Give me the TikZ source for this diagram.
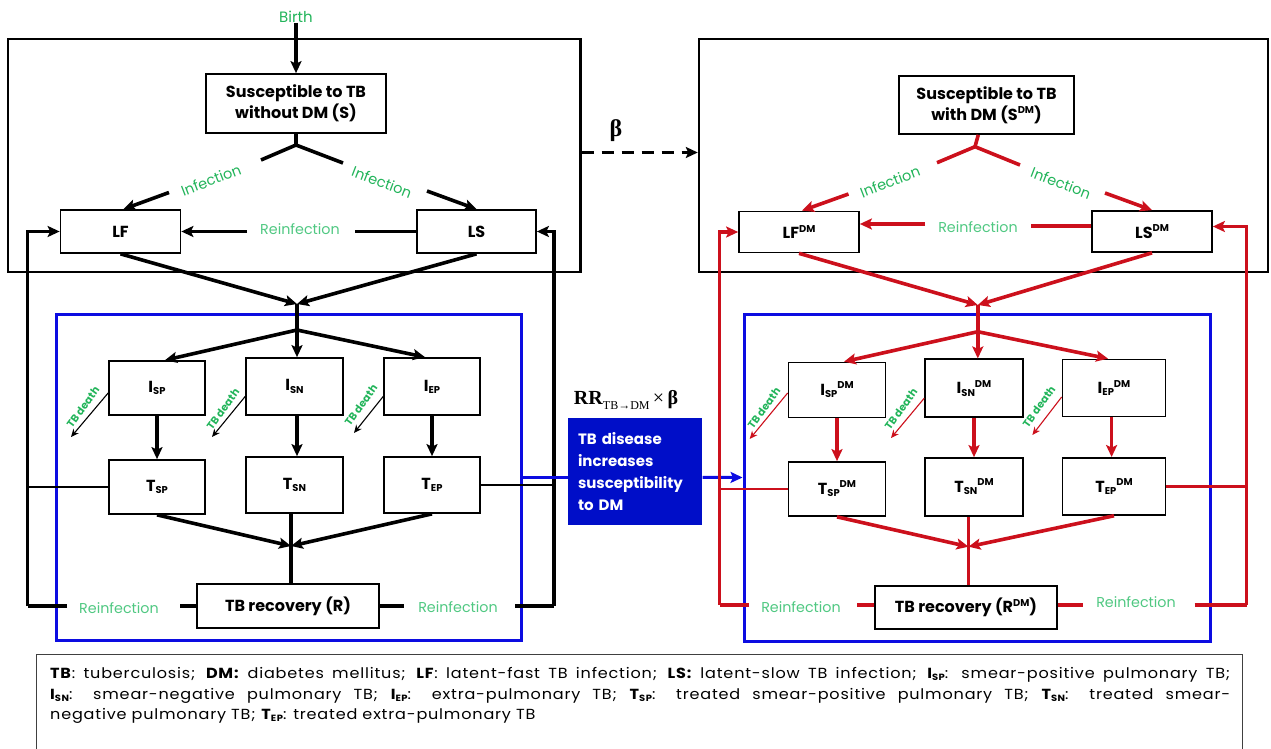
\documentclass[tikz,border=0pt]{standalone}
\usepackage{fontspec}
\setmainfont{Poppins}
\newfontfamily\serifb{Liberation Serif}
\newfontfamily\legfont[LetterSpace=5]{Poppins}
\usetikzlibrary{arrows.meta}
\definecolor{tred}{RGB}{204,16,28}
\definecolor{tblue}{RGB}{12,12,225}
\definecolor{tfill}{RGB}{0,14,200}
\definecolor{tgreen}{RGB}{34,180,90}
\definecolor{tlgreen}{RGB}{80,200,130}
\newcommand{\lsub}[1]{\raisebox{-0.25ex}{\scalebox{0.62}{#1}}}
\newcommand{\lsup}[1]{\raisebox{0.75ex}{\scalebox{0.62}{#1}}}
\newcommand{\legA}{\textbf{TB}: tuberculosis; \textbf{DM:} diabetes mellitus; \textbf{LF}: latent-fast TB infection; \textbf{LS:} latent-slow TB infection; \textbf{I\lsub{SP}}: smear-positive pulmonary TB;}
\newcommand{\legB}{\textbf{I\lsub{SN}}: smear-negative pulmonary TB; \textbf{I\lsub{EP}}: extra-pulmonary TB; \textbf{T\lsub{SP}}: treated smear-positive pulmonary TB; \textbf{T\lsub{SN}}: treated smear-}
\newcommand{\legC}{negative pulmonary TB; \textbf{T\lsub{EP}}: treated extra-pulmonary TB}
\newcommand{\legsize}{\legfont\fontsize{14.6}{20}\selectfont}
\begin{document}
\begin{tikzpicture}[x=1pt,y=-1pt,
 box/.style={draw, line width=1.7pt, inner sep=0pt, align=center, font=\bfseries\fontsize{16}{21}\selectfont},
 wh/.style 2 args={minimum width=#1pt, minimum height=#2pt},
 frame/.style={draw, line width=2.4pt, inner sep=0pt},
 bframe/.style={draw=tblue, line width=3pt, inner sep=0pt},
 flow/.style={line width=3.6pt, -{Stealth[length=12pt,width=11pt,inset=2.5pt]}},
 seg/.style={line width=3.6pt},
 thinarr/.style={line width=1.1pt, -{Stealth[length=8pt,width=7pt]}},
 inf/.style={text=tgreen, font=\fontsize{14.5}{15}\selectfont, inner sep=0pt},
 reinf/.style={text=tlgreen, font=\fontsize{14.3}{15}\selectfont, inner sep=0pt},
 death/.style={text=tgreen, font=\bfseries\fontsize{10.5}{11}\selectfont, rotate=54, inner sep=0pt},
 legline/.style={anchor=base west, inner sep=0pt, font=\legsize},
]
\useasboundingbox (0,0) rectangle (1271,749);

% ---------- frames ----------
\node[frame, wh={572.5}{233}] (topL) at (294.25,155.5) {};
\node[frame, wh={569}{233}] (topR) at (983.5,155.5) {};
\node[bframe, wh={465}{326.5}] (blueL) at (288.5,477.25) {};
\node[bframe, wh={466.5}{327}] (blueR) at (977.25,477.5) {};

% ---------- left nodes ----------
\node[inf, font=\fontsize{15}{15}\selectfont] (birth) at (296,17) {Birth};
\node[box, wh={180}{59}] (S) at (296,103.5) {Susceptible to TB\\without DM (S)};
\node[box, wh={120}{43}] (LF) at (120.5,231.5) {LF};
\node[box, wh={119}{43}] (LS) at (476.5,231.5) {LS};
\node[box, wh={96}{54}] (Isp) at (157,388) {I\lsub{SP}};
\node[box, wh={97}{57}] (Isn) at (294.5,386.5) {I\lsub{SN}};
\node[box, wh={96}{57}] (Iep) at (432,386.5) {I\lsub{EP}};
\node[box, wh={96}{54}] (Tsp) at (157,487) {T\lsub{SP}};
\node[box, wh={97}{56}] (Tsn) at (294.5,485) {T\lsub{SN}};
\node[box, wh={96}{56}] (Tep) at (432,485) {T\lsub{EP}};
\node[box, wh={182}{44}] (R) at (288,606) {TB recovery (R)};

\coordinate (sj) at (296,145);
\coordinate (sjL) at (261,160);
\coordinate (sjR) at (343,163);
\coordinate (ifL) at (169,192.5);
\coordinate (ifR) at (427,191);
\coordinate (reL) at (247,231.5);
\coordinate (reR) at (355,231.5);
\coordinate (fbLb) at (27.6,606);
\coordinate (fbRb) at (554,606);
\coordinate (cv1) at (297,304);
\coordinate (bj1) at (297,330);
\coordinate (dA) at (71,437);
\coordinate (dB) at (212,437);
\coordinate (dC) at (354,433);
\coordinate (cv2) at (291,546);
\coordinate (rbL1) at (180,606);
\coordinate (rbL2) at (67,606);
\coordinate (rbR1) at (404,606);
\coordinate (rbR2) at (515,606);

\draw[flow] (birth) -- (S);
\draw[seg] (S) -- (sj);
\draw[seg] (sjL) -- (sj) -- (sjR);
\draw[flow] (ifL) -- ([xshift=3pt]LF.north);
\draw[flow] (ifR) -- (LS.north);
\node[inf, rotate=21] (infL) at (211,180) {Infection};
\node[inf, rotate=-21] (infR) at (382,182) {Infection};
\draw[seg] (LS.west) -- (reR);
\draw[flow] (reL) -- (LF.east);
\node[reinf] (reinT) at (300,229) {Reinfection};
\draw[flow] (fbLb) |- (LF.west);
\draw[flow] (fbRb) |- (LS.east);
\draw[flow] (LF.south) -- (cv1);
\draw[flow] (LS.south) -- (cv1);
\draw[flow] (cv1) -- (cv1 |- Isn.north);
\draw[flow] (bj1) -- ([xshift=8pt]Isp.north);
\draw[flow] (bj1) -- ([xshift=-7pt]Iep.north);
\draw[flow] (Isp) -- (Tsp);
\draw[flow] (Isn.south -| cv1) -- (Tsn.north -| cv1);
\draw[flow] (Iep) -- (Tep);
\draw[thinarr] ([yshift=-5pt]Isp.west) -- (dA);
\draw[thinarr] ([yshift=-10pt]Isn.west) -- (dB);
\draw[thinarr] ([yshift=-10pt]Iep.west) -- (dC);
\node[death] (tdA) at (83,407) {TB death};
\node[death] (tdB) at (223,409) {TB death};
\node[death] (tdC) at (361,405) {TB death};
\draw[flow] (Tsp.south) -- (cv2);
\draw[flow] (Tep.south) -- (cv2);
\draw[seg] (cv2 |- Tsn.south) -- (cv2 |- R.north);
\draw[seg] (R.west) -- (rbL1);
\draw[seg] (rbL2) -- (fbLb);
\draw[seg] (R.east) -- (rbR1);
\draw[seg] (rbR2) -- (fbRb);
\node[reinf] (reinBL) at (119,608) {Reinfection};
\node[reinf] (reinBR) at (458,607) {Reinfection};
\draw[line width=2.2pt] (Tsp.west) -- (Tsp.west -| fbLb);
\draw[line width=2.2pt] (Tep.east) -- (Tep.east -| fbRb);

% ---------- middle ----------
\node[font=\serifb\bfseries\fontsize{24}{24}\selectfont] (beta) at (616,131) {β};
\draw[line width=3pt, dash pattern=on 12pt off 8pt, -{Stealth[length=12pt,width=11pt,inset=2.5pt]}] ([yshift=3pt]topL.east) -- ([yshift=3pt]topR.west);
\node[font=\serifb\fontsize{20}{20}\selectfont] (rr) at (626,400) {\textbf{RR}\raisebox{-0.45ex}{\fontsize{12}{12}\selectfont TB→DM}\,×\,\textbf{β}};
\node[fill=tfill, text=white, wh={134.6}{107}, text width=114pt, inner sep=0pt, align=left, font=\bfseries\fontsize{15}{21.7}\selectfont] (bfill) at (635,471.5) {TB disease\\increases\\susceptibility\\to DM};
\draw[tblue, line width=3pt] (blueL.east) -- (blueL.east -| bfill.west);
\draw[tblue, line width=3pt, -{Stealth[length=12pt,width=11pt,inset=2.5pt]}] (blueL.east -| bfill.east) -- (blueR.west);

% ---------- right nodes ----------
\node[box, wh={175}{58}] (SD) at (986.5,105) {Susceptible to TB\\with DM (S\lsup{DM})};
\node[box, wh={120}{41}] (LFD) at (799,232) {LF\lsup{DM}};
\node[box, wh={120}{41}] (LSD) at (1152,231.5) {LS\lsup{DM}};
\node[box, wh={97}{55}] (IspD) at (837,390) {I\lsub{SP}\lsup{DM}};
\node[box, wh={98}{58}] (IsnD) at (974,388.3) {I\lsub{SN}\lsup{DM}};
\node[box, wh={103}{57}] (IepD) at (1114,388) {I\lsub{EP}\lsup{DM}};
\node[box, wh={97}{54}] (TspD) at (837,489) {T\lsub{SP}\lsup{DM}};
\node[box, wh={98}{58}] (TsnD) at (974,487) {T\lsub{SN}\lsup{DM}};
\node[box, wh={103}{57}] (TepD) at (1114,486.4) {T\lsub{EP}\lsup{DM}};
\node[box, wh={182}{43}] (RD) at (966,607.7) {TB recovery (R\lsup{DM})};

\begin{scope}[tred]
\coordinate (sjD) at (975,146.7);
\coordinate (sjDL) at (937,162.7);
\coordinate (sjDR) at (1020,165);
\coordinate (ifDL) at (848.5,194);
\coordinate (ifDR) at (1105,193);
\coordinate (reDR) at (1031,226);
\coordinate (reDL) at (925,224);
\coordinate (fbDLb) at (719.6,605);
\coordinate (fbDRb) at (1246.5,605);
\coordinate (cvD1) at (977.8,305);
\coordinate (bjD) at (977.8,331.7);
\coordinate (dDA) at (749.7,439);
\coordinate (dDB) at (891,438);
\coordinate (dDC) at (1032.4,435);
\coordinate (cvD2) at (968.5,546.7);
\coordinate (rbDL1) at (857,605);
\coordinate (rbDL2) at (749,605);
\coordinate (rbDR1) at (1082.6,605);
\coordinate (rbDR2) at (1194.5,605);

\draw[seg] (SD) -- (sjD);
\draw[seg] (sjDL) -- (sjD) -- (sjDR);
\draw[flow] (ifDL) -- ([xshift=3pt]LFD.north);
\draw[flow] (ifDR) -- (LSD.north);
\draw[seg] (reDR -| LSD.west) -- (reDR);
\draw[flow] (reDL) -- (reDL -| LFD.east);
\draw[flow] (fbDLb) |- (LFD.west);
\draw[flow] (fbDRb) |- ([yshift=5pt]LSD.east);
\draw[flow] (LFD.south) -- (cvD1);
\draw[flow] (LSD.south) -- (cvD1);
\draw[flow] (cvD1) -- (cvD1 |- IsnD.north);
\draw[flow] (bjD) -- ([xshift=7pt]IspD.north);
\draw[flow] (bjD) -- ([xshift=-6pt]IepD.north);
\draw[flow] (IspD) -- (TspD);
\draw[flow] (IsnD) -- (TsnD);
\draw[flow] (IepD.south -| 1111.6,0) -- (TepD.north -| 1111.6,0);
\draw[thinarr] ([yshift=-3pt]IspD.west) -- (dDA);
\draw[thinarr] ([yshift=-10pt]IsnD.west) -- (dDB);
\draw[thinarr] ([yshift=-9pt]IepD.west) -- (dDC);
\draw[flow] (TspD.south) -- (cvD2);
\draw[flow] (TepD.south) -- (cvD2);
\draw[seg] (cvD2 |- TsnD.south) -- (cvD2 |- RD.north);
\draw[seg] (RD.west |- rbDL1) -- (rbDL1);
\draw[seg] (rbDL2) -- (fbDLb);
\draw[seg] (RD.east |- rbDR1) -- (rbDR1);
\draw[seg] (rbDR2) -- (fbDRb);
\draw[line width=2.4pt] (TspD.west) -- (TspD.west -| fbDLb);
\draw[line width=2.4pt] (TepD.east) -- (TepD.east -| fbDRb);
\end{scope}
\node[inf, rotate=21] (infDL) at (890,181.7) {Infection};
\node[inf, rotate=-21] (infDR) at (1061,183) {Infection};
\node[reinf] (reinDT) at (978,226.7) {Reinfection};
\node[death] (tdDA) at (764,408) {TB death};
\node[death] (tdDB) at (901,409) {TB death};
\node[death] (tdDC) at (1039,406.7) {TB death};
\node[reinf] (reinDBL) at (801,607) {Reinfection};
\node[reinf] (reinDBR) at (1136,602) {Reinfection};

% ---------- legend ----------
\draw[black!75, line width=1.5pt] (36.7,752) -- (36.7,654.5) -- (1242.7,654.5) -- (1242.7,752);
\node[legline] (leg1) at (50,678) {\scalebox{1.1}[1]{\makebox[1072.7pt][s]{\legA}}};
\node[legline] (leg2) at (50,699) {\scalebox{1.1}[1]{\makebox[1072.7pt][s]{\legB}}};
\node[legline] (leg3) at (50,719.5) {\scalebox{1.1}[1]{\legC}};
\end{tikzpicture}
\end{document}
